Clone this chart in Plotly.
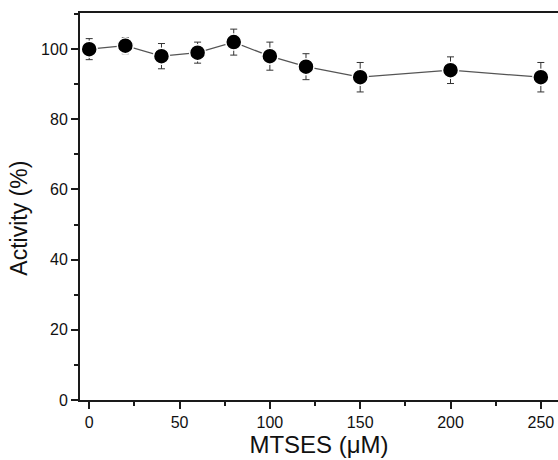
import plotly.graph_objects as go

# MTSES concentration (µM) and residual activity (%) with SD
mtses_um = [0, 20, 40, 60, 80, 100, 120, 150, 200, 250]
activity_pct = [100, 101, 98, 99, 102, 98, 95, 92, 94, 92]
activity_sd = [3.0, 2.3, 3.6, 3.0, 3.7, 4.0, 3.7, 4.2, 3.8, 4.2]

x_ticks = [0, 50, 100, 150, 200, 250]
y_ticks = [0, 20, 40, 60, 80, 100]

FONT = "Liberation Sans, Arial, sans-serif"
INK = "#1a1a1a"

fig = go.Figure()
fig.add_trace(go.Scatter(
    x=mtses_um,
    y=activity_pct,
    mode="lines+markers",
    line=dict(color="#555555", width=1.2),
    marker=dict(color="black", size=16, line=dict(color="white", width=1.5)),
    error_y=dict(type="data", array=activity_sd, visible=True,
                 color="#333333", thickness=1, width=3.5),
    showlegend=False,
))

axis_common = dict(
    showgrid=False,
    zeroline=False,
    showline=True,
    linecolor=INK,
    linewidth=2,
    ticks="outside",
    tickcolor=INK,
    tickwidth=2,
    ticklen=7,
    tickfont=dict(family=FONT, size=16, color="#111111"),
)

fig.update_layout(
    width=558,
    height=460,
    margin=dict(l=80, r=0, t=13, b=60),
    paper_bgcolor="white",
    plot_bgcolor="white",
    xaxis=dict(
        axis_common,
        range=[-5.1, 259.5],
        tickvals=x_ticks,
        minor=dict(ticks="outside", ticklen=4, tickwidth=2,
                   tickcolor=INK, dtick=25, tick0=25),
        mirror=True,
        title=dict(text="MTSES (μM)", font=dict(family=FONT, size=24, color="#111111"),
                   standoff=4),
    ),
    yaxis=dict(
        axis_common,
        range=[0, 110.3],
        tickvals=y_ticks,
        minor=dict(ticks="outside", ticklen=4, tickwidth=2,
                   tickcolor=INK, dtick=10, tick0=10),
    ),
    # y-axis title placed as a rotated annotation, slightly below the axis midpoint
    annotations=[dict(
        text="Activity (%)",
        xref="paper", yref="paper",
        x=-0.095, y=0.47,
        xanchor="right", yanchor="middle",
        textangle=-90,
        showarrow=False,
        font=dict(family=FONT, size=23, color="#111111"),
    )],
)

fig.write_html("out.html")
